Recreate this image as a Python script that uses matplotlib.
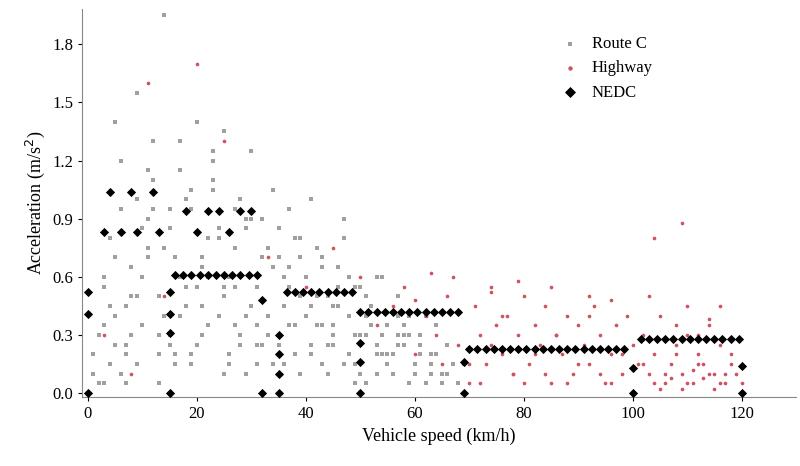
import matplotlib
matplotlib.use("Agg")
import matplotlib.pyplot as plt

# Route C (gray) - estimated sample of points
route_c_x = [1,2,3,4,5,6,7,8,9,10,11,12,13,14,15,16,17,18,19,20,21,22,23,24,25,26,27,28,29,30,31,32,33,34,35,36,37,38,39,40,41,42,43,44,45,46,47,48,49,50,51,52,53,54,55,56,57,58,59,60,61,62,63,64,65,66,67,68,
             2,4,6,8,10,12,14,16,18,20,22,24,26,28,30,32,34,36,38,40,42,44,46,48,50,52,54,56,58,60,62,64,66,
             3,5,7,9,11,13,15,17,19,21,23,25,27,29,31,33,35,37,39,41,43,45,47,49,51,53,55,57,59,61,63,65,
             1,3,5,7,9,11,13,15,17,19,21,23,25,27,29,31,33,35,37,39,41,43,45,47,49,51,53,55,57,
             4,8,12,16,20,24,28,32,36,40,44,48,6,10,14,18,22,26,30,34,38,42,46,50,54,58,62,66,
             5,9,13,17,21,25,29,33,37,41,45,49,53,57,61,65,69,3,7,11,15,19,23,27,31,35,39,43,47,51,55,59,63,67]
route_c_y = [0.10,0.30,0.55,0.80,0.40,1.20,0.20,0.65,1.00,0.35,0.90,1.10,0.50,1.95,0.25,0.70,1.30,0.45,0.95,1.40,0.30,0.60,1.10,0.85,1.35,0.20,0.75,1.00,0.40,1.25,0.55,0.90,0.30,1.05,0.70,0.45,0.95,0.20,0.80,0.60,1.00,0.35,0.70,0.50,0.25,0.65,0.90,0.40,0.15,0.55,0.30,0.45,0.20,0.60,0.35,0.10,0.50,0.25,0.40,0.15,0.30,0.05,0.20,0.35,0.10,0.25,0.15,0.05,
             0.05,0.15,0.95,0.30,0.60,1.30,0.75,0.15,1.00,0.55,0.35,0.80,0.60,0.25,0.45,0.70,0.15,0.60,0.35,0.40,0.75,0.25,0.45,0.60,0.10,0.35,0.30,0.20,0.30,0.10,0.40,0.20,0.10,
             0.60,0.70,0.25,0.50,1.15,0.20,0.95,0.40,0.15,0.70,1.25,0.50,0.35,0.85,0.25,0.75,0.85,0.55,0.50,0.20,0.65,0.35,0.15,0.30,0.50,0.25,0.15,0.40,0.05,0.25,0.15,0.05,
             0.20,0.35,1.40,0.05,1.55,0.70,0.30,0.85,0.60,0.20,0.45,1.05,0.10,0.55,0.90,0.15,0.40,0.25,0.65,0.10,0.45,0.15,0.30,0.80,0.55,0.05,0.60,0.15,0.25,
             0.45,0.50,0.95,0.20,0.25,0.40,0.30,0.25,0.15,0.40,0.10,0.20,0.10,0.85,0.40,0.55,0.80,0.15,0.90,0.65,0.80,0.50,0.55,0.30,0.20,0.35,0.05,0.10,
             0.25,0.15,0.05,1.15,0.65,0.55,0.10,0.75,0.35,0.25,0.45,0.05,0.10,0.30,0.20,0.05,0.15,0.05,0.45,0.75,0.30,1.05,1.20,0.95,0.35,0.30,0.70,0.35,0.15,0.40,0.20,0.30,0.10]

# Highway (red) - estimated sample of points
highway_x = [3,8,11,14,20,25,33,40,45,50,53,56,58,60,62,64,65,66,68,70,71,72,73,74,75,76,77,78,79,80,81,82,83,84,85,86,87,88,89,90,91,92,93,94,95,96,97,98,99,100,101,102,103,104,105,106,107,108,109,110,111,112,113,114,115,116,117,118,119,120,
             70,72,74,76,78,80,82,84,86,88,90,92,94,96,98,102,104,106,108,110,112,114,116,118,105,107,109,111,113,115,117,103,108,110,112,114,116,60,63,67,74,79,85,92,96,104,109]
highway_y = [0.30,0.10,1.60,0.50,1.70,1.30,0.70,0.55,0.75,0.60,0.35,0.45,0.55,0.20,0.40,0.30,0.15,0.50,0.25,0.05,0.45,0.30,0.15,0.55,0.35,0.20,0.40,0.10,0.30,0.50,0.15,0.35,0.25,0.45,0.05,0.30,0.20,0.40,0.10,0.35,0.25,0.15,0.45,0.30,0.05,0.20,0.35,0.10,0.40,0.25,0.15,0.30,0.10,0.20,0.40,0.05,0.15,0.25,0.10,0.30,0.05,0.20,0.15,0.35,0.10,0.25,0.05,0.20,0.10,0.05,
             0.15,0.05,0.25,0.40,0.10,0.05,0.20,0.10,0.30,0.05,0.15,0.40,0.10,0.05,0.20,0.15,0.05,0.10,0.20,0.05,0.15,0.10,0.05,0.15,0.02,0.08,0.02,0.12,0.08,0.02,0.10,0.50,0.35,0.45,0.30,0.38,0.45,0.48,0.62,0.60,0.52,0.58,0.55,0.50,0.48,0.80,0.88]

# NEDC (black diamonds)
nedc_x = [0,0,0,3,4,6,8,9,12,13,15,15,15,15,
          16,17.5,19,20.5,22,23.5,25,26.5,28,29.5,31,32,32,18,22,24,28,30,20,26,
          35,35,35,35,36.5,38,39.5,41,42.5,44,45.5,47,48.5,50,50,50,50,
          51.5,53,54.5,56,57.5,59,60.5,62,63.5,65,66.5,68,69,69,
          70,71.5,73,74.5,76,77.5,79,80.5,82,83.5,85,86.5,88,89.5,91,92.5,94,95.5,97,98.5,100,100,
          101.5,103,104.5,106,107.5,109,110.5,112,113.5,115,116.5,118,119.5,120,120]
nedc_y = [0.0,0.41,0.52,0.83,1.04,0.83,1.04,0.83,1.04,0.83,0.0,0.31,0.41,0.52,
          0.61,0.61,0.61,0.61,0.61,0.61,0.61,0.61,0.61,0.61,0.61,0.48,0.0,0.94,0.94,0.94,0.94,0.94,0.83,0.83,
          0.0,0.10,0.20,0.30,0.52,0.52,0.52,0.52,0.52,0.52,0.52,0.52,0.52,0.0,0.16,0.26,0.42,
          0.42,0.42,0.42,0.42,0.42,0.42,0.42,0.42,0.42,0.42,0.42,0.42,0.0,0.16,
          0.23,0.23,0.23,0.23,0.23,0.23,0.23,0.23,0.23,0.23,0.23,0.23,0.23,0.23,0.23,0.23,0.23,0.23,0.23,0.23,0.0,0.13,
          0.28,0.28,0.28,0.28,0.28,0.28,0.28,0.28,0.28,0.28,0.28,0.28,0.28,0.0,0.14]

def pair(xs, ys):
    n = min(len(xs), len(ys))
    return xs[:n], ys[:n]

rcx, rcy = pair(route_c_x, route_c_y)
hwx, hwy = pair(highway_x, highway_y)
nx, ny = pair(nedc_x, nedc_y)

plt.rcParams['font.family'] = ['Liberation Serif', 'DejaVu Serif']
fig, ax = plt.subplots(figsize=(8, 4.66), dpi=100)
fig.subplots_adjust(left=0.103, right=0.995, top=0.98, bottom=0.148)

ax.scatter(rcx, rcy, s=6, c='#a0a0a0', marker='s', linewidths=0, label='Route C', zorder=2)
ax.scatter(hwx, hwy, s=7, c='#cc5560', marker='o', linewidths=0, label='Highway', zorder=2)
ax.scatter(nx, ny, s=22, c='black', marker='D', linewidths=0, label='NEDC', zorder=3)

ax.set_xlim(-1, 130)
ax.set_ylim(-0.02, 1.98)
ax.set_xticks([0, 20, 40, 60, 80, 100, 120])
ax.set_yticks([0.0, 0.3, 0.6, 0.9, 1.2, 1.5, 1.8])
ax.set_yticklabels(['0.0', '0.3', '0.6', '0.9', '1.2', '1.5', '1.8'])
ax.tick_params(labelsize=12, direction='out', length=3)
for s in ['top', 'right']:
    ax.spines[s].set_visible(False)
ax.spines['bottom'].set_color('#888888')
ax.spines['left'].set_color('#888888')
ax.set_xlabel('Vehicle speed (km/h)', fontsize=13)
ax.set_ylabel('Acceleration (m/s$^2$)', fontsize=13)
ax.legend(loc='upper right', bbox_to_anchor=(0.82, 0.97), frameon=False, fontsize=12,
          handletextpad=0.3, markerscale=1.2)
fig.savefig('out.png')
